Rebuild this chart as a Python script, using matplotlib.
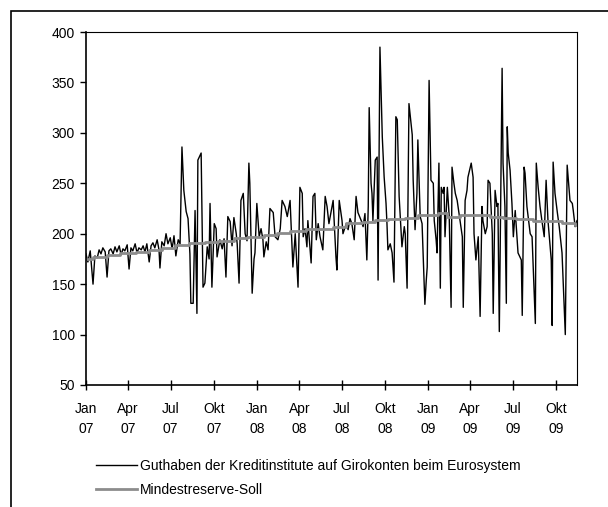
import matplotlib
matplotlib.use("Agg")
import matplotlib.pyplot as plt
import matplotlib.patches as patches
import pandas as pd

plt.rcParams['font.family'] = ['Liberation Sans', 'DejaVu Sans']
plt.rcParams['font.size'] = 10

# Guthaben der Kreditinstitute auf Girokonten beim Eurosystem (Mrd Euro)
guthaben_dates = [
    "2007-01-01", "2007-01-05", "2007-01-10", "2007-01-16", "2007-01-20", "2007-01-25", "2007-01-29",
    "2007-02-02", "2007-02-06", "2007-02-11", "2007-02-15", "2007-02-19", "2007-02-23", "2007-02-28",
    "2007-03-04", "2007-03-08", "2007-03-13", "2007-03-17", "2007-03-21", "2007-03-25", "2007-03-30",
    "2007-04-03", "2007-04-07", "2007-04-11", "2007-04-16", "2007-04-20", "2007-04-24", "2007-04-29",
    "2007-05-03", "2007-05-07", "2007-05-11", "2007-05-16", "2007-05-20", "2007-05-24", "2007-05-28",
    "2007-06-02", "2007-06-06", "2007-06-08", "2007-06-12", "2007-06-17", "2007-06-21", "2007-06-25", "2007-06-30",
    "2007-07-04", "2007-07-08", "2007-07-12", "2007-07-17", "2007-07-21", "2007-07-25", "2007-07-29",
    "2007-08-03", "2007-08-07", "2007-08-11", "2007-08-13", "2007-08-18", "2007-08-22", "2007-08-26", "2007-08-28",
    "2007-09-04", "2007-09-08", "2007-09-12", "2007-09-17", "2007-09-21", "2007-09-23", "2007-09-27",
    "2007-10-02", "2007-10-06", "2007-10-08", "2007-10-14", "2007-10-19", "2007-10-23", "2007-10-27", "2007-10-31",
    "2007-11-05", "2007-11-09", "2007-11-13", "2007-11-18", "2007-11-20", "2007-11-24", "2007-11-28",
    "2007-12-03", "2007-12-07", "2007-12-11", "2007-12-15", "2007-12-17", "2007-12-22", "2007-12-26", "2007-12-28",
    "2008-01-01", "2008-01-06", "2008-01-10", "2008-01-14", "2008-01-16", "2008-01-21", "2008-01-25", "2008-01-29",
    "2008-02-05", "2008-02-09", "2008-02-15", "2008-02-20", "2008-02-24",
    "2008-03-01", "2008-03-06", "2008-03-12", "2008-03-18", "2008-03-23", "2008-03-29",
    "2008-04-02", "2008-04-07", "2008-04-09", "2008-04-13", "2008-04-17", "2008-04-19", "2008-04-26", "2008-04-30",
    "2008-05-04", "2008-05-07", "2008-05-11", "2008-05-15", "2008-05-21", "2008-05-26", "2008-05-30",
    "2008-06-03", "2008-06-08", "2008-06-12", "2008-06-18", "2008-06-20", "2008-06-25",
    "2008-07-01", "2008-07-03", "2008-07-10", "2008-07-14", "2008-07-18", "2008-07-22", "2008-07-27", "2008-07-31",
    "2008-08-04", "2008-08-11", "2008-08-15", "2008-08-19", "2008-08-23", "2008-08-26", "2008-08-28",
    "2008-09-01", "2008-09-03", "2008-09-05", "2008-09-10", "2008-09-14", "2008-09-16", "2008-09-20", "2008-09-25", "2008-09-29",
    "2008-10-03", "2008-10-05", "2008-10-07", "2008-10-12", "2008-10-16", "2008-10-20", "2008-10-24", "2008-10-27", "2008-10-31",
    "2008-11-06", "2008-11-11", "2008-11-13", "2008-11-17", "2008-11-21", "2008-11-23", "2008-11-28", "2008-11-30",
    "2008-12-04", "2008-12-08", "2008-12-10", "2008-12-15", "2008-12-19", "2008-12-23", "2008-12-25", "2008-12-28", "2008-12-30",
    "2009-01-03", "2009-01-07", "2009-01-12", "2009-01-14", "2009-01-18", "2009-01-20", "2009-01-24", "2009-01-27", "2009-01-29",
    "2009-02-02", "2009-02-04", "2009-02-06", "2009-02-11", "2009-02-15", "2009-02-19", "2009-02-21", "2009-02-25", "2009-02-28",
    "2009-03-04", "2009-03-10", "2009-03-15", "2009-03-17", "2009-03-21", "2009-03-25", "2009-03-27",
    "2009-04-03", "2009-04-07", "2009-04-09", "2009-04-13", "2009-04-18", "2009-04-22", "2009-04-26", "2009-04-28",
    "2009-05-03", "2009-05-07", "2009-05-09", "2009-05-13", "2009-05-18", "2009-05-20", "2009-05-24", "2009-05-28", "2009-05-30",
    "2009-06-02", "2009-06-08", "2009-06-10", "2009-06-14", "2009-06-17", "2009-06-19", "2009-06-21", "2009-06-25", "2009-06-29",
    "2009-07-02", "2009-07-06", "2009-07-10", "2009-07-12", "2009-07-19", "2009-07-21", "2009-07-25", "2009-07-27", "2009-07-31",
    "2009-08-07", "2009-08-11", "2009-08-18", "2009-08-20", "2009-08-24", "2009-08-28",
    "2009-09-01", "2009-09-06", "2009-09-10", "2009-09-14", "2009-09-21", "2009-09-23", "2009-09-25", "2009-09-29",
    "2009-10-04", "2009-10-08", "2009-10-14", "2009-10-21", "2009-10-25", "2009-10-31",
    "2009-11-05", "2009-11-07", "2009-11-11", "2009-11-15",
]
guthaben = [
    180, 172, 183, 150, 178, 176, 184,
    180, 186, 182, 157, 183, 185, 180,
    187, 182, 188, 179, 185, 183, 189,
    165, 186, 183, 190, 181, 186, 184,
    188, 182, 190, 172, 188, 191, 186,
    194, 184, 166, 192, 188, 200, 190, 196,
    185, 198, 178, 194, 190, 286, 243,
    222, 215, 180, 131, 131, 223, 121, 273,
    280, 147, 151, 187, 175, 230, 147,
    210, 205, 177, 194, 185, 195, 157, 217,
    212, 188, 216, 200, 190, 151, 233,
    240, 200, 193, 270, 250, 141, 175, 181,
    230, 197, 205, 194, 177, 192, 184, 225,
    221, 197, 194, 205, 233,
    227, 217, 233, 167, 200, 147,
    246, 240, 197, 205, 187, 213, 171, 237,
    240, 194, 210, 197, 184, 237, 227,
    210, 223, 233, 177, 164, 233,
    213, 200, 210, 204, 215, 210, 194, 237,
    221, 213, 207, 220, 174, 227, 325,
    250, 240, 213, 273, 276, 154, 385, 296, 256,
    230, 210, 184, 190, 181, 152, 316, 313, 237,
    187, 207, 200, 146, 329, 320, 298, 253,
    204, 240, 293, 217, 210, 157, 130, 154, 167,
    352, 253, 250, 213, 194, 181, 270, 146, 246,
    240, 246, 197, 246, 217, 127, 266, 250, 240,
    233, 213, 197, 127, 233, 243, 256,
    270, 256, 200, 174, 197, 118, 227, 213,
    200, 207, 253, 250, 200, 121, 243, 227, 230,
    103, 364, 270, 227, 131, 306, 280, 263, 230,
    197, 223, 194, 181, 174, 119, 266, 260, 227,
    200, 197, 111, 270, 246, 227,
    213, 197, 253, 213, 174, 109, 271, 240,
    221, 207, 181, 100, 268, 233,
    230, 223, 207, 213,
]

# Mindestreserve-Soll (Stufen je Erfuellungsperiode)
soll_dates = [
    "2007-01-01", "2007-01-17", "2007-02-14", "2007-03-14", "2007-04-18", "2007-05-15",
    "2007-06-13", "2007-07-11", "2007-08-08", "2007-09-12", "2007-10-10", "2007-11-14",
    "2007-12-12", "2008-01-16", "2008-02-13", "2008-03-12", "2008-04-16", "2008-05-14",
    "2008-06-11", "2008-07-09", "2008-08-13", "2008-09-10", "2008-10-08", "2008-11-12",
    "2008-12-10", "2009-01-21", "2009-02-11", "2009-03-11", "2009-04-08", "2009-05-13",
    "2009-06-10", "2009-07-08", "2009-08-12", "2009-09-09", "2009-10-14", "2009-11-11",
    "2009-11-15",
]
soll = [
    175, 177, 179, 181, 182, 184,
    186, 189, 191, 192, 193, 196,
    197, 199, 201, 203, 205, 205,
    207, 211, 212, 214, 215, 216,
    219, 221, 217, 219, 219, 217,
    216, 215, 213, 213, 211, 209,
    209,
]

tick_dates = ["2007-01-01", "2007-04-01", "2007-07-01", "2007-10-01",
              "2008-01-01", "2008-04-01", "2008-07-01", "2008-10-01",
              "2009-01-01", "2009-04-01", "2009-07-01", "2009-10-01"]
tick_labels = ["Jan\n07", "Apr\n07", "Jul\n07", "Okt\n07",
               "Jan\n08", "Apr\n08", "Jul\n08", "Okt\n08",
               "Jan\n09", "Apr\n09", "Jul\n09", "Okt\n09"]

fig = plt.figure(figsize=(6.08, 5.07), dpi=100)
# Rahmen um die ganze Grafik
fig.patches.append(patches.Rectangle((11 / 608, -0.1), 1.0, 1.1 - 11 / 507,
                                     transform=fig.transFigure, fill=False,
                                     edgecolor='black', linewidth=1.2))

ax = fig.add_axes([86 / 608, 1 - 385 / 507, 491 / 608, 353 / 507])
ax.plot(pd.to_datetime(guthaben_dates), guthaben, color='black', linewidth=1.0,
        label="Guthaben der Kreditinstitute auf Girokonten beim Eurosystem")
ax.plot(pd.to_datetime(soll_dates), soll, color='#8c8c8c', linewidth=2.0,
        drawstyle='steps-post', label="Mindestreserve-Soll")

ax.set_xlim(pd.Timestamp("2007-01-01"), pd.Timestamp("2009-11-15"))
ax.set_ylim(50, 400)
ax.set_yticks(range(50, 401, 50))
ax.set_xticks(pd.to_datetime(tick_dates))
ax.set_xticklabels(tick_labels, linespacing=1.5)
ax.tick_params(axis='x', direction='inout', length=7, width=1, pad=9)
ax.tick_params(axis='y', direction='out', length=4, width=1, pad=4)
for s in ax.spines.values():
    s.set_linewidth(0.8)
ax.spines['left'].set_linewidth(1.2)
ax.spines['bottom'].set_linewidth(1.2)

fig.legend(loc='upper left', bbox_to_anchor=(90 / 608, 1 - 453 / 507),
           frameon=False, handlelength=3.0, handletextpad=0.2,
           labelspacing=0.75, borderaxespad=0, fontsize=10)

fig.savefig("out.png", dpi=100)
